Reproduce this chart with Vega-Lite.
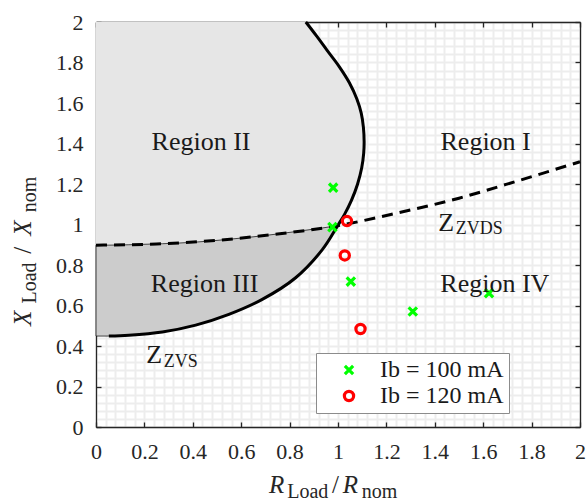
{
  "$schema": "https://vega.github.io/schema/vega-lite/v6.json",
  "width": 484,
  "height": 405,
  "autosize": {"type": "none"},
  "padding": {"left": 96, "top": 22, "right": 6, "bottom": 77},
  "background": "white",
  "config": {"view": {"stroke": null}, "font": "Liberation Serif"},
  "datasets": {
    "curve": [
      {"i": 1, "r": 0.053, "xl": 0.449},
      {"i": 2, "r": 0.136, "xl": 0.453},
      {"i": 3, "r": 0.274, "xl": 0.469},
      {"i": 4, "r": 0.412, "xl": 0.503},
      {"i": 5, "r": 0.549, "xl": 0.556},
      {"i": 6, "r": 0.687, "xl": 0.630},
      {"i": 7, "r": 0.825, "xl": 0.737},
      {"i": 8, "r": 0.936, "xl": 0.877},
      {"i": 9, "r": 0.998, "xl": 0.993},
      {"i": 10, "r": 1.027, "xl": 1.05},
      {"i": 11, "r": 1.056, "xl": 1.12},
      {"i": 12, "r": 1.081, "xl": 1.2},
      {"i": 13, "r": 1.098, "xl": 1.28},
      {"i": 14, "r": 1.106, "xl": 1.35},
      {"i": 15, "r": 1.108, "xl": 1.41},
      {"i": 16, "r": 1.105, "xl": 1.48},
      {"i": 17, "r": 1.096, "xl": 1.55},
      {"i": 18, "r": 1.078, "xl": 1.62},
      {"i": 19, "r": 1.047, "xl": 1.70},
      {"i": 20, "r": 1.005, "xl": 1.78},
      {"i": 21, "r": 0.955, "xl": 1.86},
      {"i": 22, "r": 0.912, "xl": 1.93},
      {"i": 23, "r": 0.867, "xl": 2.0}
    ],
    "region3": [
      {"r": 0, "lo": 0.449, "hi": 0.898},
      {"r": 0.053, "lo": 0.449, "hi": 0.898},
      {"r": 0.136, "lo": 0.453, "hi": 0.900},
      {"r": 0.274, "lo": 0.469, "hi": 0.905},
      {"r": 0.412, "lo": 0.503, "hi": 0.913},
      {"r": 0.549, "lo": 0.556, "hi": 0.927},
      {"r": 0.687, "lo": 0.630, "hi": 0.944},
      {"r": 0.825, "lo": 0.737, "hi": 0.965},
      {"r": 0.936, "lo": 0.877, "hi": 0.983},
      {"r": 0.998, "lo": 0.994, "hi": 0.994}
    ],
    "dashed": [
      {"r": 0, "xl": 0.898},
      {"r": 0.25, "xl": 0.904},
      {"r": 0.5, "xl": 0.922},
      {"r": 0.75, "xl": 0.953},
      {"r": 0.998, "xl": 0.994},
      {"r": 1.25, "xl": 1.058},
      {"r": 1.5, "xl": 1.130},
      {"r": 1.75, "xl": 1.218},
      {"r": 2.0, "xl": 1.31}
    ],
    "points": [
      {"r": 0.980, "xl": 1.182, "s": "Ib = 100 mA"},
      {"r": 0.977, "xl": 0.987, "s": "Ib = 100 mA"},
      {"r": 1.053, "xl": 0.718, "s": "Ib = 100 mA"},
      {"r": 1.309, "xl": 0.570, "s": "Ib = 100 mA"},
      {"r": 1.624, "xl": 0.661, "s": "Ib = 100 mA"},
      {"r": 1.037, "xl": 1.017, "s": "Ib = 120 mA"},
      {"r": 1.028, "xl": 0.847, "s": "Ib = 120 mA"},
      {"r": 1.093, "xl": 0.484, "s": "Ib = 120 mA"}
    ],
    "labels": [
      {"t": "Region I", "r": 1.610, "xl": 1.367, "role": "region"},
      {"t": "Region II", "r": 0.434, "xl": 1.367, "role": "region"},
      {"t": "Region III", "r": 0.449, "xl": 0.668, "role": "region"},
      {"t": "Region IV", "r": 1.648, "xl": 0.666, "role": "region"},
      {"t": "Z", "r": 0.208, "xl": 0.318, "role": "zmain"},
      {"t": "Z", "r": 1.414, "xl": 0.967, "role": "zmain"},
      {"t": "ZVS", "r": 0.280, "xl": 0.298, "role": "zsub"},
      {"t": "ZVDS", "r": 1.487, "xl": 0.951, "role": "zsub"},
      {"t": "R", "r": 0.715, "xl": -0.327, "role": "xmain"},
      {"t": "Load", "r": 0.790, "xl": -0.352, "role": "xsub"},
      {"t": "/", "r": 0.975, "xl": -0.327, "role": "xslash"},
      {"t": "R", "r": 1.020, "xl": -0.327, "role": "xmain"},
      {"t": "nom", "r": 1.098, "xl": -0.352, "role": "xsub"},
      {"t": "X", "r": -0.268, "xl": 0.4985, "role": "ymain"},
      {"t": "Load", "r": -0.250, "xl": 0.610, "role": "ysub"},
      {"t": "/", "r": -0.268, "xl": 0.855, "role": "yslash"},
      {"t": "X", "r": -0.268, "xl": 0.945, "role": "ymain"},
      {"t": "nom", "r": -0.250, "xl": 1.06, "role": "ysub"}
    ]
  },
  "resolve": {"axis": {"x": "independent", "y": "independent"}},
  "layer": [
    {
      "data": {"name": "curve"},
      "mark": {"type": "area", "orient": "horizontal", "interpolate": "catmull-rom", "color": "#e6e6e6", "opacity": 1},
      "encoding": {
        "y": {"field": "xl", "type": "quantitative",
          "scale": {"domain": [0, 2], "nice": false, "zero": false},
          "axis": {"orient": "left", "title": null,
            "values": [0,0.04,0.08,0.12,0.16,0.2,0.24,0.28,0.32,0.36,0.4,0.44,0.48,0.52,0.56,0.6,0.64,0.68,0.72,0.76,0.8,0.84,0.88,0.92,0.96,1,1.04,1.08,1.12,1.16,1.2,1.24,1.28,1.32,1.36,1.4,1.44,1.48,1.52,1.56,1.6,1.64,1.68,1.72,1.76,1.8,1.84,1.88,1.92,1.96,2],
            "grid": true, "gridColor": "#ededed", "gridWidth": 2,
            "domain": true, "domainColor": "#262626", "domainWidth": 1.3,
            "ticks": true, "tickSize": -5, "tickWidth": 1.3,
            "tickColor": {"condition": {"test": "abs(datum.value*5 - round(datum.value*5)) < 0.001", "value": "#262626"}, "value": "transparent"},
            "labelExpr": "abs(datum.value*5 - round(datum.value*5)) < 0.001 ? format(datum.value, '~g') : ''",
            "labelFont": "Liberation Serif", "labelFontSize": 22, "labelColor": "#262626",
            "labelPadding": 18, "labelOverlap": false, "labelFlush": false}},
        "x": {"field": "r", "type": "quantitative",
          "scale": {"domain": [0, 2], "nice": false, "zero": false},
          "axis": {"orient": "bottom", "title": null,
            "values": [0,0.04,0.08,0.12,0.16,0.2,0.24,0.28,0.32,0.36,0.4,0.44,0.48,0.52,0.56,0.6,0.64,0.68,0.72,0.76,0.8,0.84,0.88,0.92,0.96,1,1.04,1.08,1.12,1.16,1.2,1.24,1.28,1.32,1.36,1.4,1.44,1.48,1.52,1.56,1.6,1.64,1.68,1.72,1.76,1.8,1.84,1.88,1.92,1.96,2],
            "grid": true, "gridColor": "#ededed", "gridWidth": 2,
            "domain": true, "domainColor": "#262626", "domainWidth": 1.3,
            "ticks": true, "tickSize": -5, "tickWidth": 1.3,
            "tickColor": {"condition": {"test": "abs(datum.value*5 - round(datum.value*5)) < 0.001", "value": "#262626"}, "value": "transparent"},
            "labelExpr": "abs(datum.value*5 - round(datum.value*5)) < 0.001 ? format(datum.value, '~g') : ''",
            "labelFont": "Liberation Serif", "labelFontSize": 22, "labelColor": "#262626",
            "labelPadding": 19, "labelOverlap": false, "labelFlush": false}},
        "x2": {"datum": 0}
      }
    },
    {
      "data": {"name": "region3"},
      "mark": {"type": "area", "interpolate": "monotone", "color": "#cccccc", "stroke": "#1a1a1a", "strokeWidth": 0.8},
      "encoding": {
        "x": {"field": "r", "type": "quantitative",
          "axis": {"orient": "top", "title": null, "values": [0,0.2,0.4,0.6,0.8,1,1.2,1.4,1.6,1.8,2],
            "labels": false, "grid": false, "domain": true, "domainColor": "#262626", "domainWidth": 1.3,
            "ticks": true, "tickSize": -5, "tickWidth": 1.3, "tickColor": "#262626"}},
        "y": {"field": "lo", "type": "quantitative",
          "axis": {"orient": "right", "title": null, "values": [0,0.2,0.4,0.6,0.8,1,1.2,1.4,1.6,1.8,2],
            "labels": false, "grid": false, "domain": true, "domainColor": "#262626", "domainWidth": 1.3,
            "ticks": true, "tickSize": -5, "tickWidth": 1.3, "tickColor": "#262626"}},
        "y2": {"field": "hi"}
      }
    },
    {
      "data": {"name": "curve"},
      "mark": {"type": "line", "interpolate": "catmull-rom", "color": "#000000", "strokeWidth": 3},
      "encoding": {
        "x": {"field": "r", "type": "quantitative", "axis": null},
        "y": {"field": "xl", "type": "quantitative", "axis": null},
        "order": {"field": "i", "type": "quantitative"}
      }
    },
    {
      "data": {"name": "dashed"},
      "mark": {"type": "line", "interpolate": "monotone", "color": "#000000", "strokeWidth": 3, "strokeDash": [11, 7]},
      "encoding": {
        "x": {"field": "r", "type": "quantitative", "axis": null},
        "y": {"field": "xl", "type": "quantitative", "axis": null}
      }
    },
    {
      "data": {"name": "points"},
      "mark": {"type": "point", "filled": false, "strokeWidth": 3.2, "size": 85, "opacity": 1},
      "encoding": {
        "x": {"field": "r", "type": "quantitative", "axis": null},
        "y": {"field": "xl", "type": "quantitative", "axis": null},
        "color": {"field": "s", "type": "nominal",
          "scale": {"domain": ["Ib = 100 mA", "Ib = 120 mA"], "range": ["#00ff00", "#ff0000"]},
          "legend": {"orient": "none", "legendX": 220, "legendY": 331, "title": null,
            "fillColor": "#ffffff", "strokeColor": "#8c8c8c", "padding": 5,
            "labelFont": "Liberation Serif", "labelFontSize": 24, "labelColor": "#1a1a1a",
            "symbolSize": 85, "symbolStrokeWidth": 3.2, "symbolOffset": 16, "labelOffset": 19, "rowPadding": 2}},
        "shape": {"field": "s", "type": "nominal",
          "scale": {"domain": ["Ib = 100 mA", "Ib = 120 mA"], "range": ["M-0.9,-0.9L0.9,0.9M-0.9,0.9L0.9,-0.9", "circle"]}}
      }
    },
    {
      "data": {"name": "labels"},
      "transform": [{"filter": "datum.role === 'region'"}],
      "mark": {"type": "text", "font": "Liberation Serif", "fontSize": 26, "align": "center", "baseline": "alphabetic", "color": "#1a1a1a"},
      "encoding": {
        "x": {"field": "r", "type": "quantitative", "axis": null},
        "y": {"field": "xl", "type": "quantitative", "axis": null},
        "text": {"field": "t"}
      }
    },
    {
      "data": {"name": "labels"},
      "transform": [{"filter": "datum.role === 'zmain'"}],
      "mark": {"type": "text", "font": "Liberation Serif", "fontSize": 26, "align": "left", "baseline": "alphabetic", "color": "#1a1a1a"},
      "encoding": {
        "x": {"field": "r", "type": "quantitative", "axis": null},
        "y": {"field": "xl", "type": "quantitative", "axis": null},
        "text": {"field": "t"}
      }
    },
    {
      "data": {"name": "labels"},
      "transform": [{"filter": "datum.role === 'zsub'"}],
      "mark": {"type": "text", "font": "Liberation Serif", "fontSize": 18, "align": "left", "baseline": "alphabetic", "color": "#1a1a1a"},
      "encoding": {
        "x": {"field": "r", "type": "quantitative", "axis": null},
        "y": {"field": "xl", "type": "quantitative", "axis": null},
        "text": {"field": "t"}
      }
    },
    {
      "data": {"name": "labels"},
      "transform": [{"filter": "datum.role === 'xmain'"}],
      "mark": {"type": "text", "font": "Liberation Serif", "fontSize": 25, "fontStyle": "italic", "align": "left", "baseline": "alphabetic", "color": "#262626"},
      "encoding": {
        "x": {"field": "r", "type": "quantitative", "axis": null},
        "y": {"field": "xl", "type": "quantitative", "axis": null},
        "text": {"field": "t"}
      }
    },
    {
      "data": {"name": "labels"},
      "transform": [{"filter": "datum.role === 'xslash'"}],
      "mark": {"type": "text", "font": "Liberation Serif", "fontSize": 25, "align": "left", "baseline": "alphabetic", "color": "#262626"},
      "encoding": {
        "x": {"field": "r", "type": "quantitative", "axis": null},
        "y": {"field": "xl", "type": "quantitative", "axis": null},
        "text": {"field": "t"}
      }
    },
    {
      "data": {"name": "labels"},
      "transform": [{"filter": "datum.role === 'xsub'"}],
      "mark": {"type": "text", "font": "Liberation Serif", "fontSize": 20, "align": "left", "baseline": "alphabetic", "color": "#262626"},
      "encoding": {
        "x": {"field": "r", "type": "quantitative", "axis": null},
        "y": {"field": "xl", "type": "quantitative", "axis": null},
        "text": {"field": "t"}
      }
    },
    {
      "data": {"name": "labels"},
      "transform": [{"filter": "datum.role === 'ymain'"}],
      "mark": {"type": "text", "font": "Liberation Serif", "fontSize": 25, "fontStyle": "italic", "angle": 270, "align": "left", "baseline": "alphabetic", "color": "#262626"},
      "encoding": {
        "x": {"field": "r", "type": "quantitative", "axis": null},
        "y": {"field": "xl", "type": "quantitative", "axis": null},
        "text": {"field": "t"}
      }
    },
    {
      "data": {"name": "labels"},
      "transform": [{"filter": "datum.role === 'yslash'"}],
      "mark": {"type": "text", "font": "Liberation Serif", "fontSize": 25, "angle": 270, "align": "left", "baseline": "alphabetic", "color": "#262626"},
      "encoding": {
        "x": {"field": "r", "type": "quantitative", "axis": null},
        "y": {"field": "xl", "type": "quantitative", "axis": null},
        "text": {"field": "t"}
      }
    },
    {
      "data": {"name": "labels"},
      "transform": [{"filter": "datum.role === 'ysub'"}],
      "mark": {"type": "text", "font": "Liberation Serif", "fontSize": 20, "angle": 270, "align": "left", "baseline": "alphabetic", "color": "#262626"},
      "encoding": {
        "x": {"field": "r", "type": "quantitative", "axis": null},
        "y": {"field": "xl", "type": "quantitative", "axis": null},
        "text": {"field": "t"}
      }
    }
  ]
}
